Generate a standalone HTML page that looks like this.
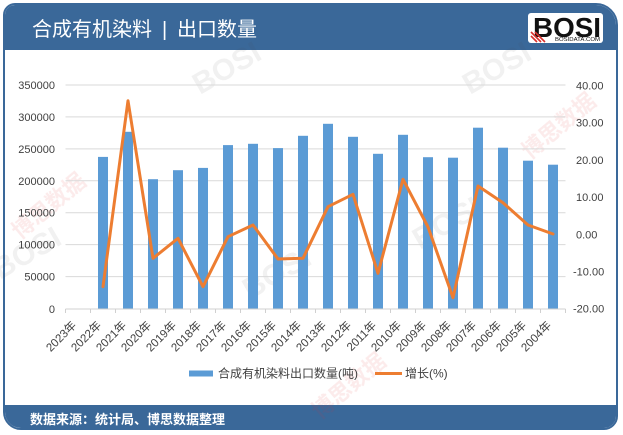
<!DOCTYPE html>
<html><head><meta charset="utf-8"><style>
html,body{margin:0;padding:0;background:#fff;}
body{width:623px;height:435px;position:relative;overflow:hidden;font-family:"Liberation Sans","Noto Sans CJK SC",sans-serif;}
.card{position:absolute;left:3px;top:3px;width:611px;height:423px;border:2px solid #3a6899;border-radius:12px 22px 14px 18px;background:#fff;overflow:hidden;}
.hdr{position:absolute;left:0;top:0;width:100%;height:45px;background:#3a6899;}
.ftr{position:absolute;left:0;bottom:0;width:100%;height:23px;background:#3a6899;}
svg{position:absolute;left:0;top:0;}
</style></head><body>
<div class="card"><div class="hdr"></div><div class="ftr"></div></div>
<svg width="623" height="435" viewBox="0 0 623 435" xmlns="http://www.w3.org/2000/svg">
<!-- faint watermarks -->
<g opacity="0.08" font-family="Liberation Sans, sans-serif" font-weight="bold" fill="#555">
<text x="200" y="95" font-size="30" transform="rotate(-30 200 95)">BOSI</text>
<text x="470" y="95" font-size="30" transform="rotate(-30 470 95)">BOSI</text>
<text x="250" y="300" font-size="30" transform="rotate(-30 250 300)">BOSI</text>
<text x="420" y="250" font-size="30" transform="rotate(-30 420 250)">BOSI</text>
<text x="0" y="280" font-size="30" transform="rotate(-30 0 280)">BOSI</text>
</g>
<g opacity="0.10" fill="#d33" font-family="Liberation Sans, 'Noto Sans CJK SC', sans-serif" font-weight="bold">
<text x="20" y="240" font-size="22" transform="rotate(-40 20 240)">博思数据</text>
<text x="320" y="420" font-size="22" transform="rotate(-40 320 420)">博思数据</text>
<text x="530" y="160" font-size="22" transform="rotate(-40 530 160)">博思数据</text>
</g>

<!-- gridlines -->
<g stroke="#d9d9d9" stroke-width="1">
<line x1="65.5" y1="85" x2="565.5" y2="85"/>
<line x1="65.5" y1="116.9" x2="565.5" y2="116.9"/>
<line x1="65.5" y1="148.9" x2="565.5" y2="148.9"/>
<line x1="65.5" y1="180.8" x2="565.5" y2="180.8"/>
<line x1="65.5" y1="212.7" x2="565.5" y2="212.7"/>
<line x1="65.5" y1="244.6" x2="565.5" y2="244.6"/>
<line x1="65.5" y1="276.6" x2="565.5" y2="276.6"/>
</g>
<!-- bars -->
<g fill="#5b9bd5">
<rect x="98" y="156.9" width="10" height="152.1"/>
<rect x="123" y="131.8" width="10" height="177.2"/>
<rect x="148" y="179.2" width="10" height="129.8"/>
<rect x="173" y="170.2" width="10" height="138.8"/>
<rect x="198" y="167.9" width="10" height="141.1"/>
<rect x="223" y="145.1" width="10" height="163.9"/>
<rect x="248" y="143.8" width="10" height="165.2"/>
<rect x="273" y="148.1" width="10" height="160.9"/>
<rect x="298" y="135.8" width="10" height="173.2"/>
<rect x="323" y="123.8" width="10" height="185.2"/>
<rect x="348" y="136.8" width="10" height="172.2"/>
<rect x="373" y="153.8" width="10" height="155.2"/>
<rect x="398" y="134.8" width="10" height="174.2"/>
<rect x="423" y="157.2" width="10" height="151.8"/>
<rect x="448" y="157.7" width="10" height="151.3"/>
<rect x="473" y="127.7" width="10" height="181.3"/>
<rect x="498" y="147.7" width="10" height="161.3"/>
<rect x="523" y="160.7" width="10" height="148.3"/>
<rect x="548" y="164.7" width="10" height="144.3"/>
</g>
<!-- x axis -->
<line x1="65.5" y1="309" x2="565.5" y2="309" stroke="#d0d0d0" stroke-width="1"/>
<g stroke="#d0d0d0" stroke-width="1">
<line x1="65.5" y1="309" x2="65.5" y2="313"/><line x1="90.5" y1="309" x2="90.5" y2="313"/><line x1="115.5" y1="309" x2="115.5" y2="313"/><line x1="140.5" y1="309" x2="140.5" y2="313"/><line x1="165.5" y1="309" x2="165.5" y2="313"/><line x1="190.5" y1="309" x2="190.5" y2="313"/><line x1="215.5" y1="309" x2="215.5" y2="313"/><line x1="240.5" y1="309" x2="240.5" y2="313"/><line x1="265.5" y1="309" x2="265.5" y2="313"/><line x1="290.5" y1="309" x2="290.5" y2="313"/><line x1="315.5" y1="309" x2="315.5" y2="313"/><line x1="340.5" y1="309" x2="340.5" y2="313"/><line x1="365.5" y1="309" x2="365.5" y2="313"/><line x1="390.5" y1="309" x2="390.5" y2="313"/><line x1="415.5" y1="309" x2="415.5" y2="313"/><line x1="440.5" y1="309" x2="440.5" y2="313"/><line x1="465.5" y1="309" x2="465.5" y2="313"/><line x1="490.5" y1="309" x2="490.5" y2="313"/><line x1="515.5" y1="309" x2="515.5" y2="313"/><line x1="540.5" y1="309" x2="540.5" y2="313"/><line x1="565.5" y1="309" x2="565.5" y2="313"/>
</g>
<!-- line series -->
<polyline fill="none" stroke="#ed7d31" stroke-width="3" stroke-linejoin="round" stroke-linecap="round"
points="103,286.7 128,100.7 153,258.3 178,238.3 203,286.7 228,236.7 253,225 278,259 303,258.3 328,206.7 353,194.3 378,273.3 403,179.3 428,227 453,297.7 478,186 503,202.7 528,225 553,234"/>

<!-- left axis labels -->
<g font-family="Liberation Sans, sans-serif" font-size="11" fill="#404040" text-anchor="end">
<text x="55" y="89">350000</text>
<text x="55" y="120.9">300000</text>
<text x="55" y="152.9">250000</text>
<text x="55" y="184.8">200000</text>
<text x="55" y="216.7">150000</text>
<text x="55" y="248.6">100000</text>
<text x="55" y="280.6">50000</text>
<text x="55" y="313">0</text>
</g>
<!-- right axis labels -->
<g font-family="Liberation Sans, sans-serif" font-size="11" fill="#404040">
<text x="576" y="89.5">40.00</text>
<text x="576" y="126.7">30.00</text>
<text x="576" y="163.9">20.00</text>
<text x="576" y="201.1">10.00</text>
<text x="576" y="238.3">0.00</text>
<text x="573" y="275.5">-10.00</text>
<text x="573" y="312.7">-20.00</text>
</g>
<!-- x labels -->
<g font-family="Liberation Sans, 'Noto Sans CJK SC', sans-serif" font-size="11.5" fill="#404040" text-anchor="end">
<text transform="translate(77,326) rotate(-45)">2023年</text>
<text transform="translate(102,326) rotate(-45)">2022年</text>
<text transform="translate(127,326) rotate(-45)">2021年</text>
<text transform="translate(152,326) rotate(-45)">2020年</text>
<text transform="translate(177,326) rotate(-45)">2019年</text>
<text transform="translate(202,326) rotate(-45)">2018年</text>
<text transform="translate(227,326) rotate(-45)">2017年</text>
<text transform="translate(252,326) rotate(-45)">2016年</text>
<text transform="translate(277,326) rotate(-45)">2015年</text>
<text transform="translate(302,326) rotate(-45)">2014年</text>
<text transform="translate(327,326) rotate(-45)">2013年</text>
<text transform="translate(352,326) rotate(-45)">2012年</text>
<text transform="translate(377,326) rotate(-45)">2011年</text>
<text transform="translate(402,326) rotate(-45)">2010年</text>
<text transform="translate(427,326) rotate(-45)">2009年</text>
<text transform="translate(452,326) rotate(-45)">2008年</text>
<text transform="translate(477,326) rotate(-45)">2007年</text>
<text transform="translate(502,326) rotate(-45)">2006年</text>
<text transform="translate(527,326) rotate(-45)">2005年</text>
<text transform="translate(552,326) rotate(-45)">2004年</text>
</g>
<!-- legend -->
<rect x="189" y="370.5" width="24" height="6" fill="#5b9bd5"/>
<text x="218" y="377.5" font-family="Liberation Sans, 'Noto Sans CJK SC', sans-serif" font-size="12" fill="#404040">合成有机染料出口数量(吨)</text>
<line x1="375" y1="373.5" x2="402" y2="373.5" stroke="#ed7d31" stroke-width="3"/>
<text x="405" y="377.5" font-family="Liberation Sans, 'Noto Sans CJK SC', sans-serif" font-size="12" fill="#404040">增长(%)</text>

<!-- title -->
<g font-family="Liberation Sans, 'Noto Sans CJK SC', sans-serif" font-size="20" fill="#ffffff">
<text x="32" y="36">合成有机染料</text>
<text x="162" y="36">|</text>
<text x="177" y="36">出口数量</text>
</g>
<!-- logo -->
<rect x="528" y="13" width="75" height="30" rx="3" fill="#ffffff"/>
<text x="533" y="37" font-family="Liberation Sans, sans-serif" font-weight="bold" font-size="28" fill="#111" textLength="68" lengthAdjust="spacingAndGlyphs">BOSI</text>
<g stroke="#d9302c" stroke-width="1.6">
<line x1="531" y1="36" x2="537" y2="42"/><line x1="531" y1="32" x2="541" y2="42"/><line x1="535" y1="32" x2="545" y2="42"/>
</g>
<text x="555" y="41" font-family="Liberation Sans, sans-serif" font-size="5.5" fill="#111" textLength="45" lengthAdjust="spacingAndGlyphs">BOSIDATA.COM</text>

<!-- footer -->
<text x="30" y="424" font-family="Liberation Sans, 'Noto Sans CJK SC', sans-serif" font-size="13" font-weight="bold" fill="#ffffff">数据来源：统计局、博思数据整理</text>
</svg>
</body></html>
